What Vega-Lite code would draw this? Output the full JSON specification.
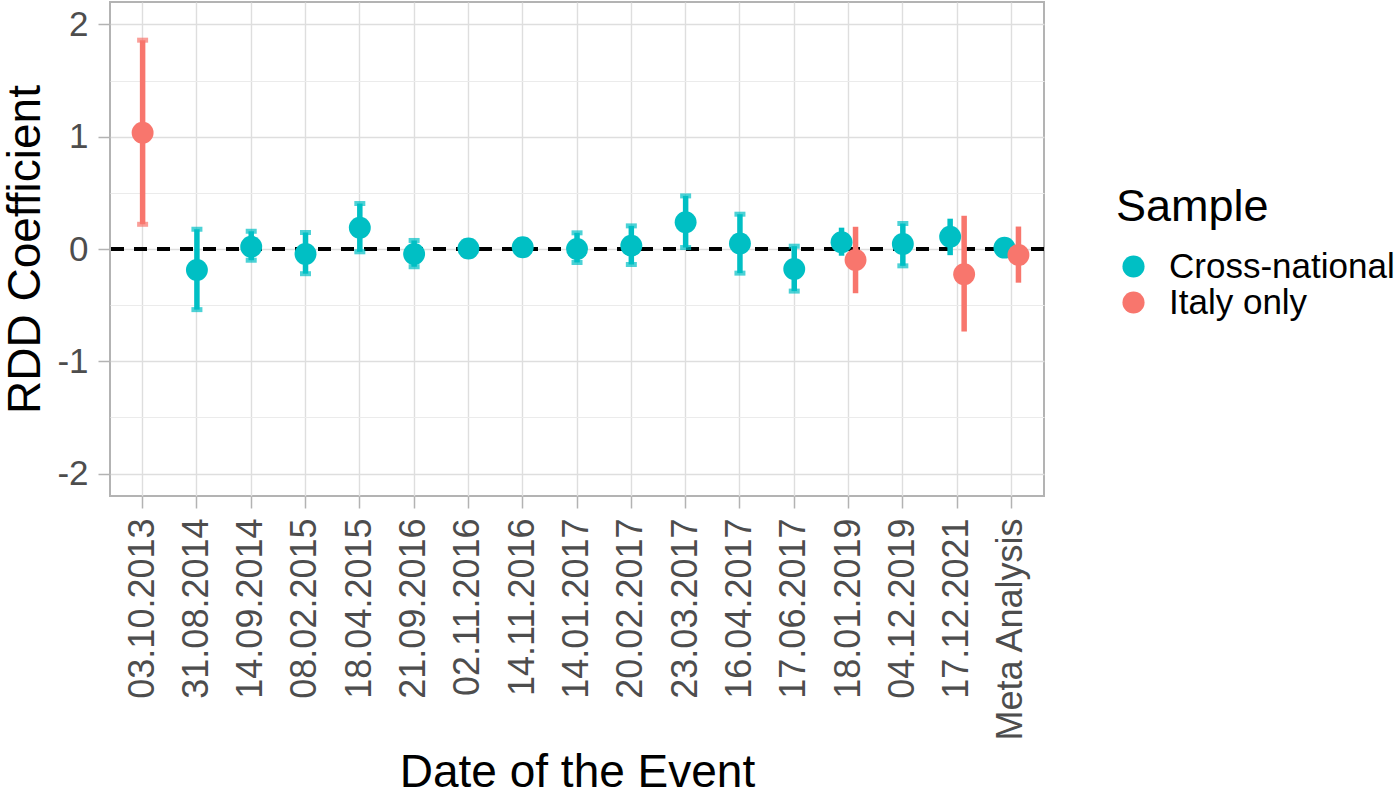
{
  "$schema": "https://vega.github.io/schema/vega-lite/v6.json",
  "width": 934,
  "height": 494,
  "autosize": {"type": "none"},
  "padding": {"left": 110, "top": 2, "right": 356, "bottom": 295},
  "background": "white",
  "config": {
    "font": "Liberation Sans",
    "view": {"stroke": "#B3B3B3", "strokeWidth": 2},
    "axis": {
      "domain": false,
      "tickColor": "#B3B3B3",
      "tickWidth": 1.5,
      "tickSize": 12,
      "labelColor": "#4D4D4D",
      "labelFontSize": 35,
      "labelLimit": 0,
      "titleFontSize": 46,
      "titleFontWeight": "normal",
      "titleColor": "black",
      "labelPadding": 10
    }
  },
  "data": {
    "values": [
      {"Date": "03.10.2013", "Sample": "Italy only", "est": 1.035, "lo": 0.22, "hi": 1.86},
      {"Date": "31.08.2014", "Sample": "Cross-national", "est": -0.187, "lo": -0.54, "hi": 0.176},
      {"Date": "14.09.2014", "Sample": "Cross-national", "est": 0.02, "lo": -0.1, "hi": 0.158},
      {"Date": "08.02.2015", "Sample": "Cross-national", "est": -0.044, "lo": -0.22, "hi": 0.147},
      {"Date": "18.04.2015", "Sample": "Cross-national", "est": 0.19, "lo": -0.025, "hi": 0.405},
      {"Date": "21.09.2016", "Sample": "Cross-national", "est": -0.044, "lo": -0.158, "hi": 0.076},
      {"Date": "02.11.2016", "Sample": "Cross-national", "est": 0.005, "lo": -0.06, "hi": 0.07},
      {"Date": "14.11.2016", "Sample": "Cross-national", "est": 0.015, "lo": -0.05, "hi": 0.08},
      {"Date": "14.01.2017", "Sample": "Cross-national", "est": 0.0, "lo": -0.12, "hi": 0.144},
      {"Date": "20.02.2017", "Sample": "Cross-national", "est": 0.03, "lo": -0.138, "hi": 0.206},
      {"Date": "23.03.2017", "Sample": "Cross-national", "est": 0.238, "lo": 0.013, "hi": 0.473},
      {"Date": "16.04.2017", "Sample": "Cross-national", "est": 0.05, "lo": -0.215, "hi": 0.31},
      {"Date": "17.06.2017", "Sample": "Cross-national", "est": -0.178, "lo": -0.375, "hi": 0.025},
      {"Date": "18.01.2019", "Sample": "Cross-national", "est": 0.06, "lo": -0.06, "hi": 0.19},
      {"Date": "18.01.2019", "Sample": "Italy only", "est": -0.098, "lo": -0.394, "hi": 0.198},
      {"Date": "04.12.2019", "Sample": "Cross-national", "est": 0.045, "lo": -0.15, "hi": 0.227},
      {"Date": "17.12.2021", "Sample": "Cross-national", "est": 0.11, "lo": -0.055, "hi": 0.27},
      {"Date": "17.12.2021", "Sample": "Italy only", "est": -0.225, "lo": -0.735, "hi": 0.296},
      {"Date": "Meta Analysis", "Sample": "Cross-national", "est": 0.012, "lo": -0.05, "hi": 0.07},
      {"Date": "Meta Analysis", "Sample": "Italy only", "est": -0.053, "lo": -0.3, "hi": 0.2}
    ]
  },
  "transform": [
    {"joinaggregate": [{"op": "count", "as": "n"}], "groupby": ["Date"]},
    {"calculate": "datum.n > 1 ? datum.Sample : 'solo'", "as": "dodge"}
  ],
  "encoding": {
    "x": {
      "field": "Date",
      "type": "ordinal",
      "sort": null,
      "title": "Date of the Event",
      "scale": {"paddingInner": 0, "paddingOuter": 0.1},
      "axis": {
        "labelAngle": -90,
        "labelFontSize": 36,
        "grid": true,
        "gridColor": "#DEDEDE",
        "gridWidth": 1.4,
        "bandPosition": 0.5,
        "titleY": 290,
        "titleBaseline": "alphabetic"
      }
    },
    "xOffset": {
      "field": "dodge",
      "type": "nominal",
      "scale": {"type": "point", "domain": ["Cross-national", "solo", "Italy only"], "range": [20.18, 34.18], "padding": 0}
    },
    "y": {
      "type": "quantitative",
      "title": "RDD Coefficient",
      "scale": {"domain": [-2.2, 2.2], "nice": false, "zero": false},
      "axis": {
        "values": [-2, -1.5, -1, -0.5, 0, 0.5, 1, 1.5, 2],
        "labelExpr": "datum.value % 1 === 0 ? '' + datum.value : ''",
        "grid": true,
        "gridColor": {"condition": {"test": "datum.value % 1 !== 0", "value": "#EBEBEB"}, "value": "#DEDEDE"},
        "gridWidth": {"condition": {"test": "datum.value % 1 !== 0", "value": 1}, "value": 1.4},
        "tickSize": {"condition": {"test": "datum.value % 1 !== 0", "value": 0}, "value": 12},
        "titlePadding": 7
      }
    },
    "color": {
      "field": "Sample",
      "type": "nominal",
      "scale": {"domain": ["Cross-national", "Italy only"], "range": ["#00BFC4", "#F8766D"]},
      "legend": {
        "title": "Sample",
        "orient": "none",
        "legendX": 1006,
        "legendY": 183,
        "titleFontSize": 45,
        "titleFontWeight": "normal",
        "titleColor": "black",
        "titlePadding": 19,
        "labelFontSize": 35,
        "labelColor": "black",
        "labelLimit": 0,
        "labelOffset": 18,
        "symbolType": "circle",
        "symbolSize": 490,
        "symbolStrokeWidth": 0,
        "symbolOpacity": 1,
        "rowPadding": -1,
        "padding": 0
      }
    }
  },
  "layer": [
    {
      "mark": {"type": "rule", "color": "black", "strokeWidth": 2.8, "strokeDash": [13, 10]},
      "encoding": {"y": {"datum": 0}, "x": null, "xOffset": null, "color": null}
    },
    {
      "mark": {"type": "rule", "strokeWidth": 5.5},
      "encoding": {"y": {"field": "lo"}, "y2": {"field": "hi"}}
    },
    {
      "transform": [{"filter": "datum.n == 1"}],
      "mark": {"type": "tick", "orient": "horizontal", "size": 11, "thickness": 5},
      "encoding": {"y": {"field": "lo"}}
    },
    {
      "transform": [{"filter": "datum.n == 1"}],
      "mark": {"type": "tick", "orient": "horizontal", "size": 11, "thickness": 5},
      "encoding": {"y": {"field": "hi"}}
    },
    {
      "mark": {"type": "circle", "size": 480, "opacity": 1},
      "encoding": {"y": {"field": "est"}}
    }
  ]
}
